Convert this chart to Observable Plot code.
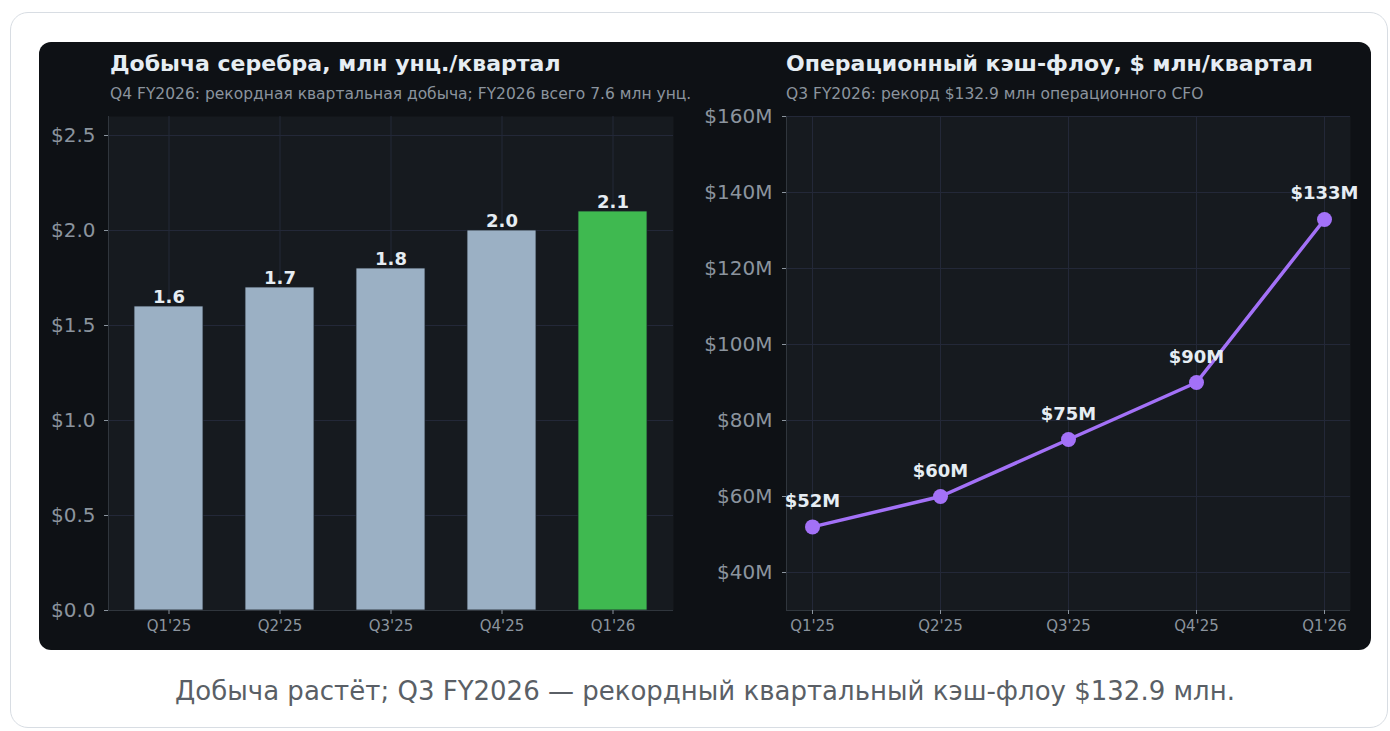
<!DOCTYPE html>
<html>
<head>
<meta charset="utf-8">
<script src="https://cdn.jsdelivr.net/npm/d3@7"></script>
<script src="https://cdn.jsdelivr.net/npm/@observablehq/plot@0.6"></script>
<style>
  html, body { margin: 0; padding: 0; background: #ffffff; width: 1390px; height: 731px; overflow: hidden; font-family: "DejaVu Sans", sans-serif; }
  .card { position: absolute; left: 10px; top: 12px; width: 1378px; height: 716px; border: 1.5px solid #d8dde3; border-radius: 18px; box-sizing: border-box; }
  .panel { position: absolute; left: 39px; top: 42px; width: 1332px; height: 608px; background: #0e1115; border-radius: 12px; }
  .title { position: absolute; font-weight: bold; font-size: 22px; line-height: 1; color: #e6edf3; white-space: nowrap; }
  .sub { position: absolute; font-size: 15.5px; line-height: 1; color: #8b949e; white-space: nowrap; }
  .chart { position: absolute; top: 106px; }
  .caption { position: absolute; left: 0; width: 1410px; text-align: center; top: 678px; font-size: 26px; line-height: 1; color: #5a5f66; white-space: nowrap; }
</style>
</head>
<body>
<div class="card"></div>
<div class="panel"></div>
<div class="title" style="left:110px; top:53px;">Добыча серебра, млн унц./квартал</div>
<div class="sub" style="left:110px; top:87px;">Q4 FY2026: рекордная квартальная добыча; FY2026 всего 7.6 млн унц.</div>
<div class="title" style="left:786px; top:53px;">Операционный кэш-флоу, $ млн/квартал</div>
<div class="sub" style="left:786px; top:87px;">Q3 FY2026: рекорд $132.9 млн операционного CFO</div>
<div id="left" class="chart" style="left:39px;"></div>
<div id="right" class="chart" style="left:700px;"></div>
<div class="caption">Добыча растёт; Q3 FY2026 — рекордный квартальный кэш-флоу $132.9 млн.</div>
<script>
// ---- data ----
const quarters = ["Q1'25", "Q2'25", "Q3'25", "Q4'25", "Q1'26"];
const silverOz = [1.6, 1.7, 1.8, 2.0, 2.1];
const highlightQuarter = "Q1'26";
const silverTicks = [0, 0.5, 1.0, 1.5, 2.0, 2.5];
const cashFlow = [52, 60, 75, 90, 132.9];
const cashTicks = [40, 60, 80, 100, 120, 140, 160];

// ---- styling ----
const BG_PLOT = "#161a1f";
const GRID = "#232838";
const SPINE = "#30363d";
const TICK_TEXT = "#8b949e";
const LABEL = "#e6edf3";
const BAR = "#9bb0c4";
const GREEN = "#3fb950";
const PURPLE = "#a371f7";

const silverData = quarters.map((q, i) => ({q, v: silverOz[i]}));
const cashData = quarters.map((q, i) => ({q, v: cashFlow[i]}));

const common = {
  height: 544, marginTop: 10, marginBottom: 40,
  style: {background: "transparent", color: TICK_TEXT, fontFamily: "DejaVu Sans", overflow: "visible"}
};

const left = Plot.plot({
  ...common,
  width: 650, marginLeft: 69, marginRight: 16,
  x: {type: "band", domain: quarters, paddingInner: 0.38, paddingOuter: 0.231, label: null},
  y: {domain: [0, 2.6], label: null},
  marks: [
    Plot.frame({fill: BG_PLOT, stroke: null}),
    Plot.gridY(silverTicks, {stroke: GRID, strokeOpacity: 1}),
    Plot.gridX(quarters, {stroke: GRID, strokeOpacity: 1}),
    Plot.barY(silverData.filter(d => d.q !== highlightQuarter), {x: "q", y: "v", fill: BAR, stroke: "#1b2129", strokeWidth: 0.8}),
    Plot.barY(silverData.filter(d => d.q === highlightQuarter), {x: "q", y: "v", fill: GREEN, stroke: "#1b2129", strokeWidth: 0.8}),
    Plot.text(silverData, {x: "q", y: "v", text: d => d.v.toFixed(1), dy: -4, lineAnchor: "bottom", fontWeight: "bold", fontSize: 18, fill: LABEL}),
    Plot.ruleY([0], {stroke: SPINE}),
    Plot.frame({anchor: "left", stroke: SPINE}),
    Plot.axisY(silverTicks, {tickFormat: d => "$" + d.toFixed(1), tickSize: 4, tickPadding: 9, fontSize: 20, stroke: TICK_TEXT, fill: TICK_TEXT, label: null}),
    Plot.axisX(quarters, {tickSize: 4, tickPadding: 6, fontSize: 15, stroke: TICK_TEXT, fill: TICK_TEXT, label: null})
  ]
});
document.getElementById("left").append(left);

const right = Plot.plot({
  ...common,
  width: 671, marginLeft: 86, marginRight: 21,
  x: {type: "point", domain: quarters, padding: 0.2, label: null},
  y: {domain: [30, 160], label: null},
  marks: [
    Plot.frame({fill: BG_PLOT, stroke: null}),
    Plot.gridY(cashTicks, {stroke: GRID, strokeOpacity: 1}),
    Plot.gridX(quarters, {stroke: GRID, strokeOpacity: 1}),
    Plot.ruleY([30], {stroke: SPINE}),
    Plot.frame({anchor: "left", stroke: SPINE}),
    Plot.line(cashData, {x: "q", y: "v", stroke: PURPLE, strokeWidth: 3.5}),
    Plot.dot(cashData, {x: "q", y: "v", r: 7.5, fill: PURPLE, stroke: null}),
    Plot.text(cashData, {x: "q", y: "v", text: d => "$" + Math.round(d.v) + "M", dy: -20, lineAnchor: "bottom", fontWeight: "bold", fontSize: 18, fill: LABEL}),
    Plot.axisY(cashTicks, {tickFormat: d => "$" + d + "M", tickSize: 4, tickPadding: 10, fontSize: 20, stroke: TICK_TEXT, fill: TICK_TEXT, label: null}),
    Plot.axisX(quarters, {tickSize: 4, tickPadding: 6, fontSize: 15, stroke: TICK_TEXT, fill: TICK_TEXT, label: null})
  ]
});
document.getElementById("right").append(right);
</script>
</body>
</html>
